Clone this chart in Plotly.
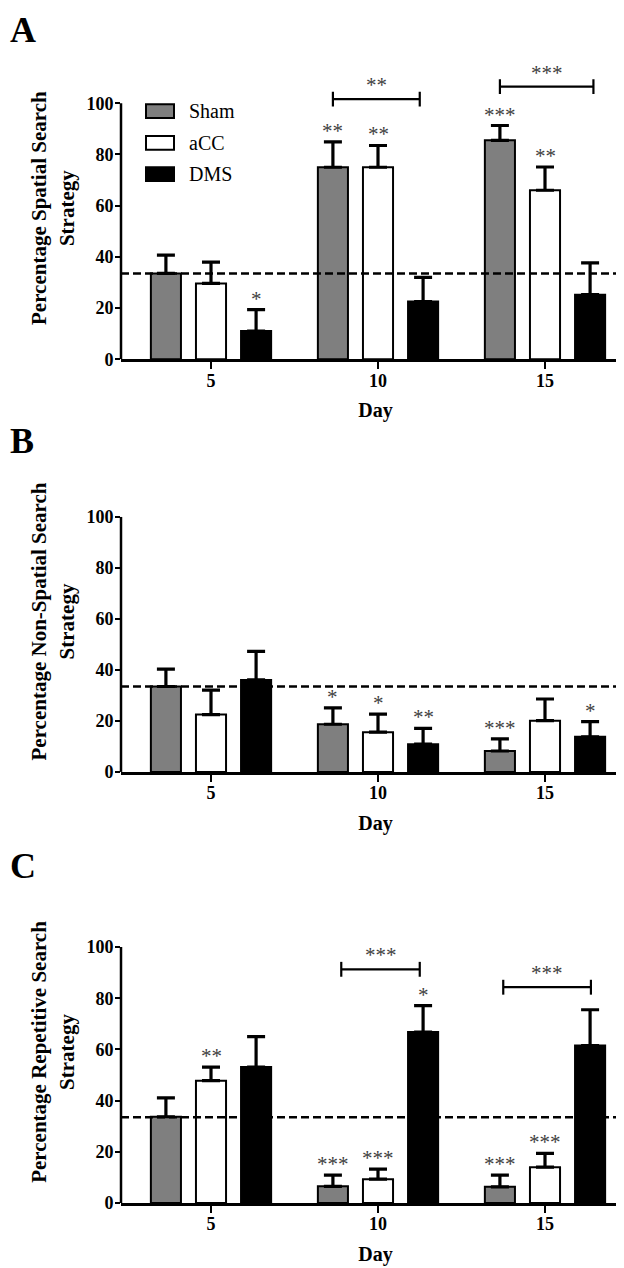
import plotly.graph_objects as go

# ---------------- data ----------------
days = ["5", "10", "15"]
groups = ["Sham", "aCC", "DMS"]
group_colors = ["#7f7f7f", "#ffffff", "#000000"]

# Panel A: spatial search strategy (%)
spatial_sham = [33.5, 75.0, 85.5]
spatial_sham_sem = [7.2, 9.9, 5.8]
spatial_acc = [29.6, 75.0, 66.0]
spatial_acc_sem = [8.3, 8.5, 9.1]
spatial_dms = [11.0, 22.5, 25.2]
spatial_dms_sem = [8.4, 9.5, 12.4]
spatial_stars_sham = ["", "**", "***"]
spatial_stars_acc = ["", "**", "**"]
spatial_stars_dms = ["*", "", ""]

# Panel B: non-spatial search strategy (%)
nonspatial_sham = [33.5, 18.7, 8.2]
nonspatial_sham_sem = [6.8, 6.4, 4.8]
nonspatial_acc = [22.5, 15.6, 20.1]
nonspatial_acc_sem = [9.6, 7.1, 8.5]
nonspatial_dms = [36.1, 10.9, 13.8]
nonspatial_dms_sem = [11.2, 6.2, 5.9]
nonspatial_stars_sham = ["", "*", "***"]
nonspatial_stars_acc = ["", "*", ""]
nonspatial_stars_dms = ["", "**", "*"]

# Panel C: repetitive search strategy (%)
repetitive_sham = [33.7, 6.5, 6.3]
repetitive_sham_sem = [7.4, 4.4, 4.6]
repetitive_acc = [47.8, 9.3, 14.0]
repetitive_acc_sem = [5.3, 3.9, 5.4]
repetitive_dms = [53.1, 66.8, 61.5]
repetitive_dms_sem = [11.9, 10.3, 14.0]
repetitive_stars_sham = ["", "***", "***"]
repetitive_stars_acc = ["**", "***", "***"]
repetitive_stars_dms = ["", "*", ""]

chance_level = 33.5

# comparison brackets (Sham vs DMS) : panel, start, end (in day units), height, label
bracket_panel = ["A", "A", "C", "C"]
bracket_x0 = [0.73, 1.73, 0.78, 1.75]
bracket_x1 = [1.25, 2.29, 1.25, 2.275]
bracket_y = [101.6, 106.5, 91.3, 84.3]
bracket_label = ["**", "***", "***", "***"]

panel_letters = ["A", "B", "C"]
y_titles = ["Percentage Spatial Search<br>Strategy",
            "Percentage Non-Spatial Search<br>Strategy",
            "Percentage Repetitive Search<br>Strategy"]
y_ticks = [0, 20, 40, 60, 80, 100]

# ---------------- layout helpers ----------------
W, H = 624, 1268
FONT = "Liberation Serif"
STAR_COLOR = "#404040"


def px_x(p):
    return p / W


def px_y(p):
    return 1 - p / H


# pixel positions of the value 0 and 100 for each panel, and letter box tops
panel_geom = {
    "A": dict(y0=354.0, y100=96.0, letter_top=0),
    "B": dict(y0=770.0, y100=513.0, letter_top=414),
    "C": dict(y0=1204.5, y100=946.5, letter_top=843),
}
Y_TOP = 118
x_left_px, x_right_px = 113, 622
cat_px0, cat_step_px = 203, 167
x_range = [(x_left_px - cat_px0) / cat_step_px, (x_right_px - cat_px0) / cat_step_px]

BARGAP = 0.19
BARGROUPGAP = 0.333
slot = (1 - BARGAP) / 3

panels = {
    "A": dict(vals=[spatial_sham, spatial_acc, spatial_dms],
              sems=[spatial_sham_sem, spatial_acc_sem, spatial_dms_sem],
              stars=[spatial_stars_sham, spatial_stars_acc, spatial_stars_dms]),
    "B": dict(vals=[nonspatial_sham, nonspatial_acc, nonspatial_dms],
              sems=[nonspatial_sham_sem, nonspatial_acc_sem, nonspatial_dms_sem],
              stars=[nonspatial_stars_sham, nonspatial_stars_acc, nonspatial_stars_dms]),
    "C": dict(vals=[repetitive_sham, repetitive_acc, repetitive_dms],
              sems=[repetitive_sham_sem, repetitive_acc_sem, repetitive_dms_sem],
              stars=[repetitive_stars_sham, repetitive_stars_acc, repetitive_stars_dms]),
}

fig = go.Figure()
shapes = []
annotations = []
layout_axes = {}
x_idx = list(range(len(days)))

for pi, key in enumerate(panel_letters):
    n = "" if pi == 0 else str(pi + 1)
    xa, ya = "x" + n, "y" + n
    g = panel_geom[key]
    scale = (g["y0"] - g["y100"]) / 100.0
    top_px = g["y0"] - Y_TOP * scale
    d = panels[key]

    for gi, grp in enumerate(groups):
        fig.add_trace(go.Bar(
            x=x_idx, y=d["vals"][gi], name=grp, showlegend=False,
            marker=dict(color=group_colors[gi], line=dict(color="black", width=2)),
            error_y=dict(type="data", symmetric=False, array=d["sems"][gi],
                         arrayminus=[0] * len(days), color="black",
                         thickness=3.2, width=9),
            xaxis=xa, yaxis=ya,
        ))
        for di in x_idx:
            s = d["stars"][gi][di]
            if s:
                annotations.append(dict(
                    x=di + (gi - 1) * slot, y=d["vals"][gi][di] + d["sems"][gi][di],
                    xref=xa, yref=ya, text=s, showarrow=False,
                    yanchor="bottom", yshift=-3,
                    font=dict(family=FONT, size=21, color=STAR_COLOR)))

    layout_axes["xaxis" + n] = dict(
        domain=[px_x(x_left_px), px_x(x_right_px)], range=x_range, anchor=ya,
        tickvals=x_idx, ticktext=days, ticks="outside", ticklen=7, tickwidth=2,
        tickcolor="black", showline=True, linewidth=2.5, linecolor="black",
        showgrid=False, zeroline=False, fixedrange=True, ticklabelstandoff=-4,
        tickfont=dict(family=FONT, size=18, color="black", weight="bold"),
        title=dict(text="Day", standoff=14,
                   font=dict(family=FONT, size=20, color="black", weight="bold")),
    )
    layout_axes["yaxis" + n] = dict(
        domain=[px_y(g["y0"]), px_y(top_px)], range=[0, Y_TOP], anchor=xa,
        tickvals=y_ticks, ticks="outside", ticklen=5, tickwidth=2, tickcolor="black",
        showline=False, showgrid=False, zeroline=False, fixedrange=True,
        ticklabelstandoff=-2,
        tickfont=dict(family=FONT, size=18, color="black", weight="bold"),
        title=dict(text=y_titles[pi], standoff=6,
                   font=dict(family=FONT, size=21, color="black", weight="bold")),
    )

    # y-axis line from 0 to 100
    shapes.append(dict(type="line", xref=xa + " domain", yref=ya, x0=0, x1=0,
                       y0=y_ticks[0], y1=y_ticks[-1],
                       line=dict(color="black", width=2.5)))
    # chance level dashed line
    shapes.append(dict(type="line", xref=xa + " domain", yref=ya, x0=0, x1=1,
                       y0=chance_level, y1=chance_level,
                       line=dict(color="black", width=2.5, dash="8px,4px")))

    # brackets
    for bi in range(len(bracket_panel)):
        if bracket_panel[bi] != key:
            continue
        bx0, bx1, by = bracket_x0[bi], bracket_x1[bi], bracket_y[bi]
        tick = 7.5 / scale
        shapes.append(dict(type="line", xref=xa, yref=ya, x0=bx0, x1=bx1, y0=by, y1=by,
                           line=dict(color="black", width=2.2)))
        for bx in (bx0, bx1):
            shapes.append(dict(type="line", xref=xa, yref=ya, x0=bx, x1=bx,
                               y0=by - tick, y1=by + tick,
                               line=dict(color="black", width=2.2)))
        annotations.append(dict(x=(bx0 + bx1) / 2, y=by, xref=xa, yref=ya,
                                text=bracket_label[bi], showarrow=False,
                                yanchor="bottom", yshift=0,
                                font=dict(family=FONT, size=21, color=STAR_COLOR)))

    # panel letter
    annotations.append(dict(x=0, y=px_y(g["letter_top"]), xref="paper", yref="paper",
                            text=key, showarrow=False, xanchor="left", yanchor="top",
                            font=dict(family=FONT, size=36, color="black", weight="bold")))

# legend (drawn in panel A)
leg_box_x0, leg_box_x1 = 138, 166
leg_text_x = 179
leg_center_y = [104, 136, 167.5]
for gi, grp in enumerate(groups):
    cy = leg_center_y[gi]
    shapes.append(dict(type="rect", xref="paper", yref="paper",
                       x0=px_x(leg_box_x0), x1=px_x(leg_box_x1),
                       y0=px_y(cy + 7), y1=px_y(cy - 7),
                       fillcolor=group_colors[gi], line=dict(color="black", width=2)))
    annotations.append(dict(x=px_x(leg_text_x), y=px_y(cy), xref="paper", yref="paper",
                            text=grp, showarrow=False, xanchor="left", yanchor="middle",
                            font=dict(family=FONT, size=20, color="black")))

fig.update_layout(
    width=W, height=H, autosize=False,
    margin=dict(l=0, r=0, t=0, b=0),
    paper_bgcolor="white", plot_bgcolor="white",
    barmode="group", bargap=BARGAP, bargroupgap=BARGROUPGAP,
    showlegend=False,
    shapes=shapes, annotations=annotations,
    **layout_axes,
)

fig.write_html("out.html")
